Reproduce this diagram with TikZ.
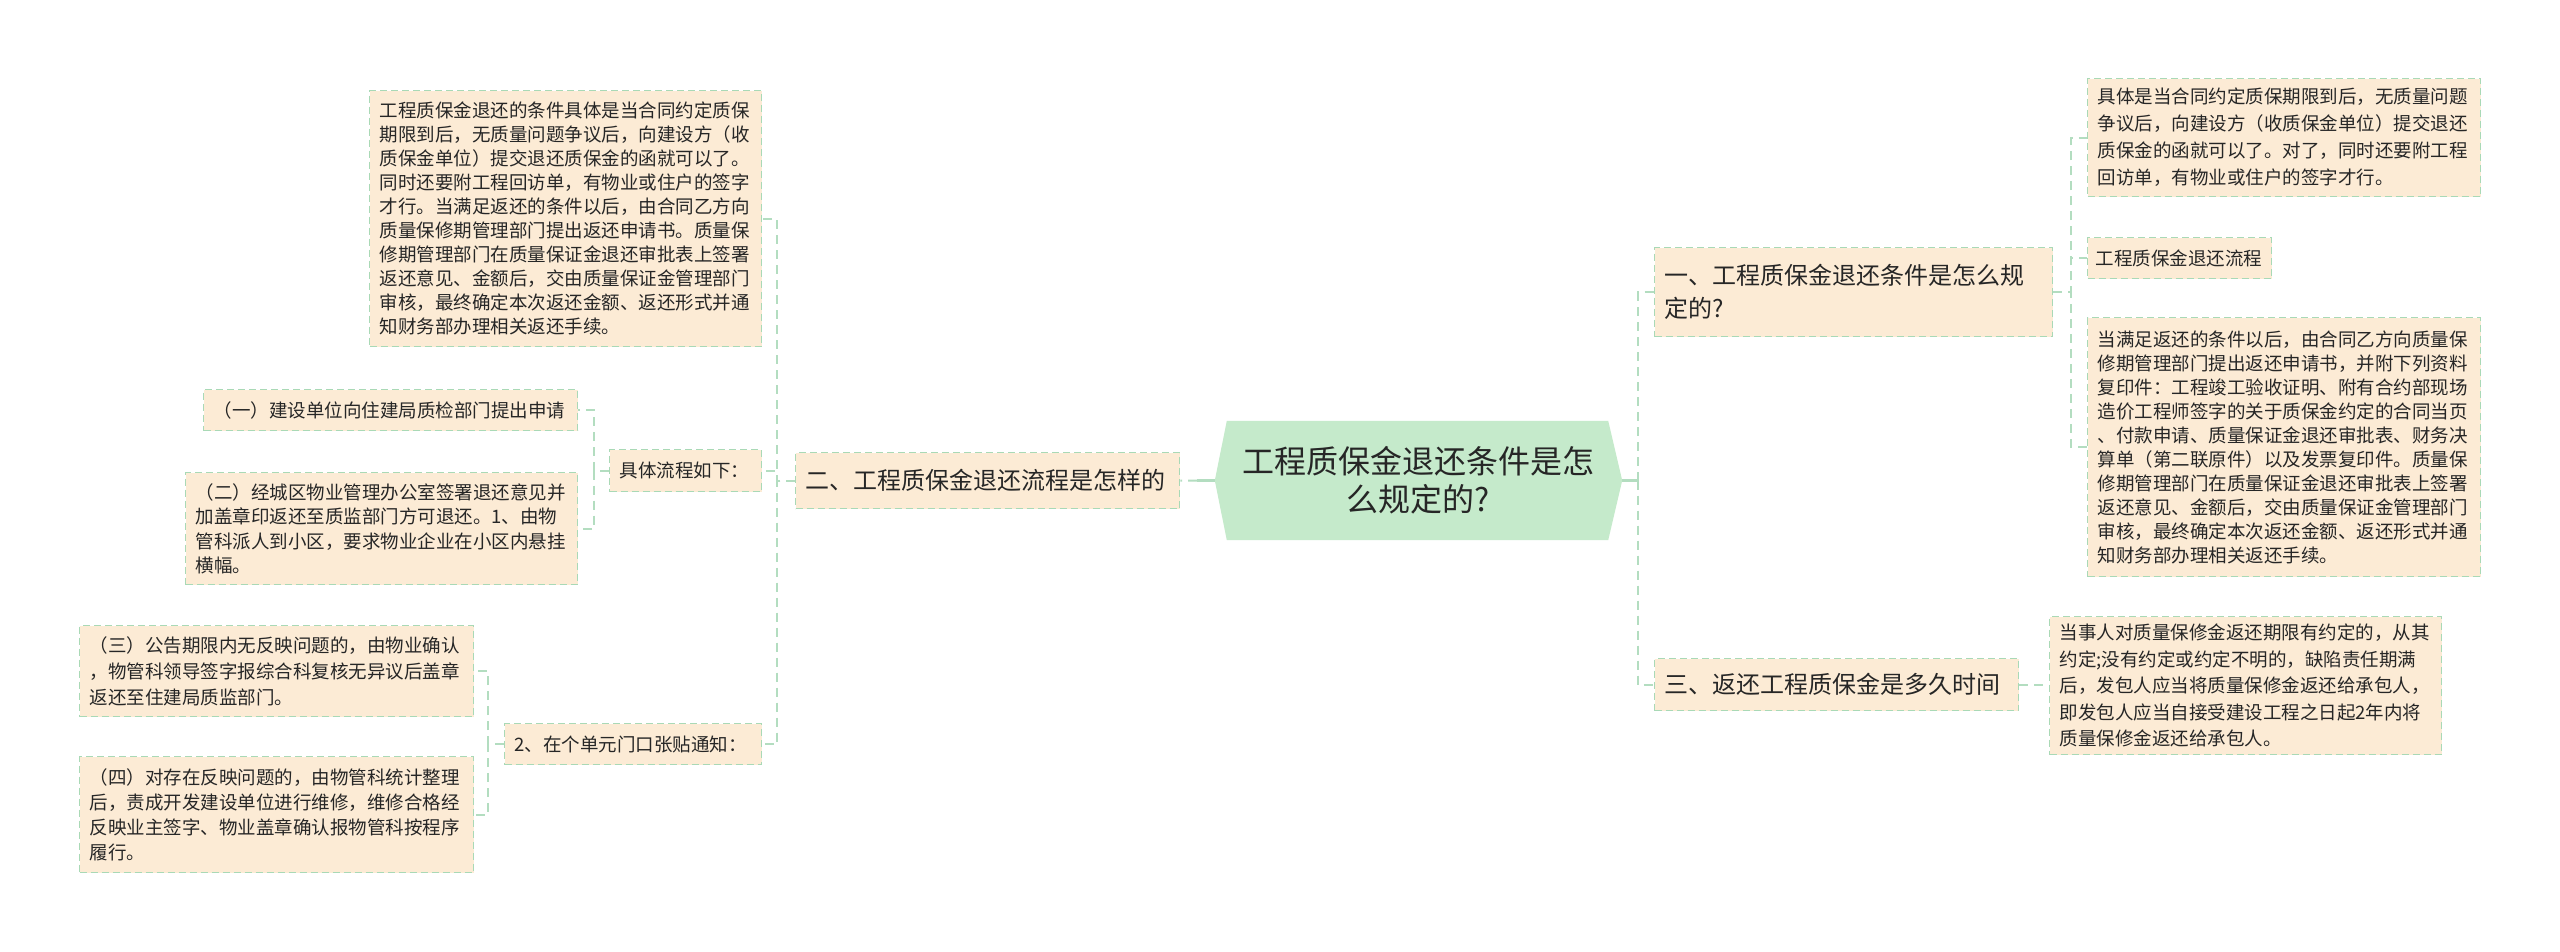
\documentclass[tikz,border=0pt]{standalone}
\usepackage{fontspec}
\setmainfont{Noto Sans CJK SC}
\usetikzlibrary{backgrounds}
\definecolor{boxfill}{HTML}{FCEBD5}
\definecolor{boxline}{HTML}{A9D9B6}
\definecolor{rootfill}{HTML}{C5EACB}
\definecolor{connline}{HTML}{B3DDC0}
\definecolor{txt}{HTML}{262626}
\tikzset{
  leaf/.style={draw=boxline, fill=boxfill, line width=1.3pt, dash pattern=on 7pt off 4pt,
    anchor=north west, inner xsep=10pt, inner ysep=0pt, align=left, text=txt,
    font=\fontsize{18.5}{24}\selectfont},
  big/.style={leaf, font=\fontsize{24}{33}\selectfont},
  conn/.style={draw=connline, line width=2pt, dash pattern=on 9pt off 6pt},
  solidconn/.style={draw=connline, line width=2.5pt},
}
\begin{document}
\begin{tikzpicture}[x=1pt,y=-1pt]
\useasboundingbox (0,0) rectangle (2560,952);

% root
\node[inner sep=0pt, minimum width=407pt, minimum height=119pt, align=center, text=txt,
  font=\fontsize{32}{38}\selectfont] (root) at (1418.5,480.5) {工程质保金退还条件是怎\\么规定的?};
\begin{scope}[on background layer]
\fill[white] (0,0) rectangle (2560,952);
\fill[rootfill] ([xshift=12pt]root.north west) -- ([xshift=-14pt]root.north east) -- (root.east)
  -- ([xshift=-14pt]root.south east) -- ([xshift=12pt]root.south west) -- (root.west) -- cycle;
\end{scope}

% first level
\node[big, minimum width=384pt, minimum height=56pt, text width=364pt] (n2) at (795,452) {二、工程质保金退还流程是怎样的};
\node[big, minimum width=398pt, minimum height=89pt, text width=378pt] (n1) at (1654,247) {一、工程质保金退还条件是怎么规\\定的?};
\node[big, minimum width=364pt, minimum height=52pt, text width=344pt] (n3) at (1654,658) {三、返还工程质保金是多久时间};

% right children
\node[leaf, minimum width=393pt, minimum height=118pt, text width=373pt, font=\fontsize{18.5}{27}\selectfont] (r1) at (2087,78)
{具体是当合同约定质保期限到后，无质量问题\\争议后，向建设方（收质保金单位）提交退还\\质保金的函就可以了。对了，同时还要附工程\\回访单，有物业或住户的签字才行。};
\node[leaf, inner xsep=8pt, minimum width=184pt, minimum height=41pt, text width=168pt] (r2) at (2087,237) {工程质保金退还流程};
\node[leaf, minimum width=393pt, minimum height=259pt, text width=373pt] (r3) at (2087,317)
{当满足返还的条件以后，由合同乙方向质量保\\修期管理部门提出返还申请书，并附下列资料\\复印件：工程竣工验收证明、附有合约部现场\\造价工程师签字的关于质保金约定的合同当页\\、付款申请、质量保证金退还审批表、财务决\\算单（第二联原件）以及发票复印件。质量保\\修期管理部门在质量保证金退还审批表上签署\\返还意见、金额后，交由质量保证金管理部门\\审核，最终确定本次返还金额、返还形式并通\\知财务部办理相关返还手续。};
\node[leaf, minimum width=392pt, minimum height=138pt, text width=372pt, font=\fontsize{18.5}{26.6}\selectfont] (r4) at (2049,616)
{当事人对质量保修金返还期限有约定的，从其\\约定;没有约定或约定不明的，缺陷责任期满\\后，发包人应当将质量保修金返还给承包人，\\即发包人应当自接受建设工程之日起2年内将\\质量保修金返还给承包人。};

% left children
\node[leaf, minimum width=392pt, minimum height=256pt, text width=372pt] (l1) at (369,90)
{工程质保金退还的条件具体是当合同约定质保\\期限到后，无质量问题争议后，向建设方（收\\质保金单位）提交退还质保金的函就可以了。\\同时还要附工程回访单，有物业或住户的签字\\才行。当满足返还的条件以后，由合同乙方向\\质量保修期管理部门提出返还申请书。质量保\\修期管理部门在质量保证金退还审批表上签署\\返还意见、金额后，交由质量保证金管理部门\\审核，最终确定本次返还金额、返还形式并通\\知财务部办理相关返还手续。};
\node[leaf, minimum width=152pt, minimum height=42pt, text width=132pt] (l2) at (609,449) {具体流程如下：};
\node[leaf, minimum width=257pt, minimum height=41pt, text width=237pt] (l3) at (504,723) {2、在个单元门口张贴通知：};

\node[leaf, minimum width=374pt, minimum height=41pt, text width=354pt] (l2a) at (203,389) {（一）建设单位向住建局质检部门提出申请};
\node[leaf, minimum width=392pt, minimum height=112pt, text width=372pt, font=\fontsize{18.5}{24.4}\selectfont] (l2b) at (185,472)
{（二）经城区物业管理办公室签署退还意见并\\加盖章印返还至质监部门方可退还。1、由物\\管科派人到小区，要求物业企业在小区内悬挂\\横幅。};
\node[leaf, minimum width=394pt, minimum height=91pt, text width=374pt, font=\fontsize{18.5}{26}\selectfont] (l3a) at (79,625)
{（三）公告期限内无反映问题的，由物业确认\\，物管科领导签字报综合科复核无异议后盖章\\返还至住建局质监部门。};
\node[leaf, minimum width=394pt, minimum height=116pt, text width=374pt, font=\fontsize{18.5}{25}\selectfont] (l3b) at (79,756)
{（四）对存在反映问题的，由物管科统计整理\\后，责成开发建设单位进行维修，维修合格经\\反映业主签字、物业盖章确认报物管科按程序\\履行。};

% connectors
\coordinate (rs) at (1638,480.5);
\coordinate (ls) at (1197,480.5);
\draw[solidconn] (root.east) -- (rs);
\draw[solidconn] (root.west) -- (ls);
\draw[conn] (ls) -- (n2.east);
\draw[conn] (rs) |- (n1.west);
\draw[conn] (rs) |- (n3.west);

\draw[conn] (n1.east) -- ++(18,0) |- (r1.west);
\draw[conn] (n1.east) -- ++(18,0) |- (r2.west);
\draw[conn] (n1.east) -- ++(18,0) |- (r3.west);
\draw[conn] (n3.east) -- (r4.west |- n3.east);

\draw[conn] (n2.west) -- ++(-18,0) |- (l1.east);
\draw[conn] (n2.west) -- ++(-18,0) |- (l2.east);
\draw[conn] (n2.west) -- ++(-18,0) |- (l3.east);

\draw[conn] (l2.west) -- ++(-15,0) |- (l2a.east);
\draw[conn] (l2.west) -- ++(-15,0) |- (l2b.east);

\draw[conn] (l3.west) -- ++(-16,0) |- (l3a.east);
\draw[conn] (l3.west) -- ++(-16,0) |- (l3b.east);
\end{tikzpicture}
\end{document}
